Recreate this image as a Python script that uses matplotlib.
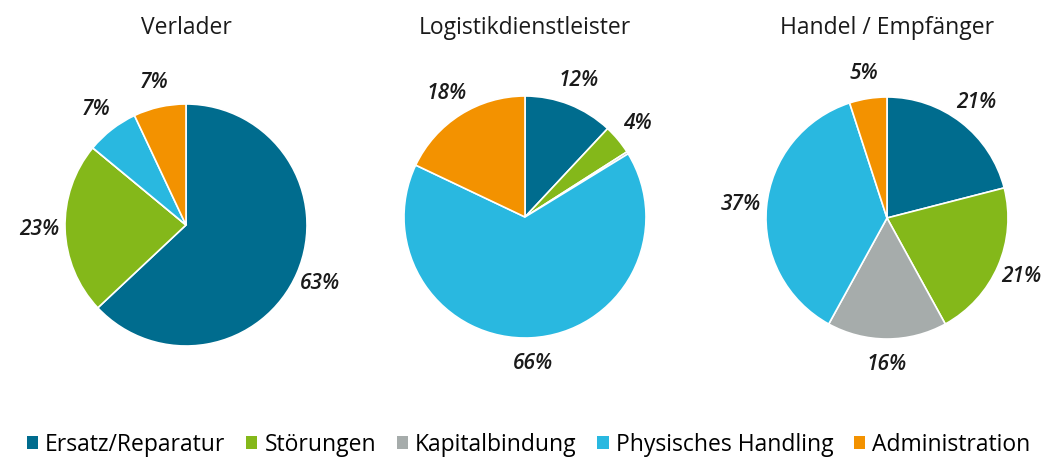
"""Three pie charts: cost shares per stakeholder group."""

import matplotlib.pyplot as plt
from matplotlib.patches import Patch

plt.rcParams["font.family"] = ["Open Sans", "DejaVu Sans"]

# Categories and colours (legend order = wedge order, clockwise from 12 o'clock).
categories = ["Ersatz/Reparatur", "Störungen", "Kapitalbindung",
              "Physisches Handling", "Administration"]
colors = ["#006c8e", "#84b81a", "#a6acab", "#29b8e0", "#f39200"]

titles = ["Verlader", "Logistikdienstleister", "Handel / Empfänger"]

verlader = [63, 23, 0, 7, 7]
logistik = [12, 4, 0.3, 66, 18]
handel = [21, 21, 16, 37, 5]
series = [verlader, logistik, handel]

# Pie centres and radius in pixels (figure is 1057 x 459).
W, H = 1057, 459
centers = [(186, 225), (525, 217), (887, 218)]
radius = 121

fig = plt.figure(figsize=(W / 100, H / 100), dpi=100)

for (cx, cy), title, values in zip(centers, titles, series):
    ax = fig.add_axes([(cx - radius) / W, 1 - (cy + radius) / H,
                       2 * radius / W, 2 * radius / H])
    ax.pie(values, colors=colors, startangle=90, counterclock=False,
           radius=1, pctdistance=1.21,
           autopct=lambda p: f"{p:.0f}%" if p >= 1 else "",
           wedgeprops=dict(edgecolor="white", linewidth=1.2),
           textprops=dict(fontsize=15, fontstyle="italic", fontweight="semibold",
                          color="#1a1a1a"))
    ax.set_xlim(-1, 1)
    ax.set_ylim(-1, 1)
    ax.set_aspect("auto")
    ax.axis("off")
    fig.text(cx / W, 1 - 28 / H, title, ha="center", va="center",
             fontsize=16.5, color="#1a1a1a")

handles = [Patch(facecolor=c, edgecolor="none") for c in colors]
fig.legend(handles, categories, loc="center", bbox_to_anchor=(0.5, 1 - 445 / H),
           ncol=5, frameon=False, fontsize=16.5, handlelength=0.5, handleheight=0.5,
           handletextpad=0.3, columnspacing=0.9, borderaxespad=0)

fig.savefig("out.png", dpi=100)
